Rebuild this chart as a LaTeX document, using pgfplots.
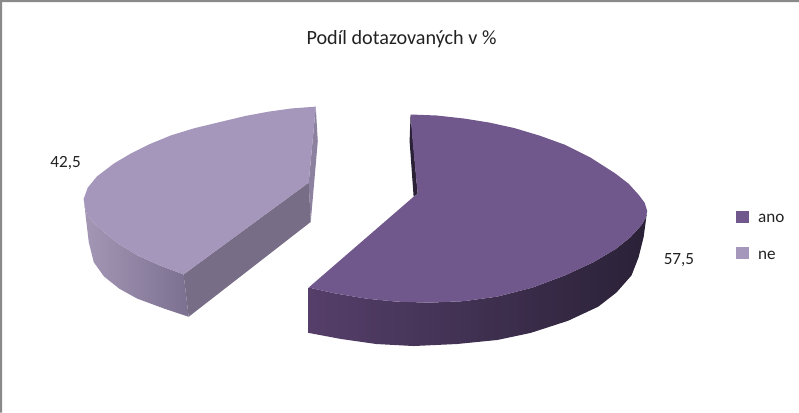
\documentclass[border=0pt]{standalone}
\usepackage{fontspec}
\setmainfont{Carlito}
\usepackage{pgfplots}
\pgfplotsset{compat=1.18}
\definecolor{dtop}{HTML}{70578C}
\definecolor{ltop}{HTML}{A596BB}
\definecolor{dl}{HTML}{553F6A}
\definecolor{dr}{HTML}{2A2137}
\definecolor{ll}{HTML}{A497B6}
\definecolor{lr}{HTML}{7C7090}
\definecolor{lfront}{HTML}{786D86}
\definecolor{lside}{HTML}{8D81A0}
\definecolor{txt}{HTML}{222222}
\definecolor{frame}{HTML}{8A8A8A}
\begin{document}
\begin{tikzpicture}
\begin{axis}[scale only axis,width=799pt,height=419pt,xmin=0,xmax=799,ymin=0,ymax=419,y dir=reverse,hide axis,clip=true,no markers]
% frame
\addplot[fill=frame,draw=none] coordinates {(7,10)(799,10)(799,12)(9,12)(9,419)(7,419)} --cycle;
% light slice
\addplot[fill=lside,draw=none] coordinates {(320,116)(322,150)(315,230)(313,191)} --cycle;
\addplot[draw=none,left color=ll,right color=lr] coordinates {(90,207)(91,215)(93,222)(100,231)(110,240)(125,252)(143,263)(165,273)(189,282)(194,324)(170,316)(143,306)(125,296)(110,284)(100,270)(95,250)(92,225)} --cycle;
\addplot[fill=lfront,draw=none] coordinates {(189,282)(313,191)(315,230)(194,324)} --cycle;
\addplot[fill=ltop,draw=none] coordinates {(320,115.7)(296,117.5)(273,120.7)(250,125)(227,130.5)(200,137)(177,144)(155,153)(137,162)(120,172)(103,185)(94,196)(90,207)(91,215)(93,222)(100,231)(110,240)(125,252)(143,263)(165,273)(189,282)(313,191)} --cycle;
% dark slice
\addplot[fill=dr,draw=none] coordinates {(414,123.5)(413,150)(417,205)(421,202)} --cycle;
\addplot[draw=none,left color=dl,right color=dr] coordinates {(648.5,219)(647,226)(643,233)(632,245)(617,257)(595,270)(567,283)(535,295)(500,304)(467,308.5)(433,310)(400,309)(370,306)(340,301)(313,295)(313,340)(345,346)(380,351)(417,353)(460,351)(500,347)(533,340)(570,328)(600,314)(618,300)(633,283)(640,265)(645,245)} --cycle;
\addplot[fill=dtop,draw=none] coordinates {(414,123.5)(440,124.5)(467,127.5)(492,131.5)(517,137)(542,144.5)(567,153.5)(592,166)(617,182)(630,192)(640,203)(646,211)(648.5,219)(647,226)(643,233)(632,245)(617,257)(595,270)(567,283)(535,295)(500,304)(467,308.5)(433,310)(400,309)(370,306)(340,301)(313,295)(417,205)(421,202)(416,150)} --cycle;
% legend keys
\addplot[fill=dtop,draw=none] coordinates {(737,219)(749,219)(749,231)(737,231)} --cycle;
\addplot[fill=ltop,draw=none] coordinates {(737,255)(749,255)(749,267)(737,267)} --cycle;
\node[txt,font=\fontsize{20}{24}\selectfont] at (axis cs:405,49) {Podíl dotazovaných v \%};
\node[txt,font=\fontsize{17}{20}\selectfont] at (axis cs:72,172) {42,5};
\node[txt,font=\fontsize{17}{20}\selectfont] at (axis cs:680,268) {57,5};
\node[txt,font=\fontsize{17}{20}\selectfont,anchor=base west] at (axis cs:755,231) {ano};
\node[txt,font=\fontsize{17}{20}\selectfont,anchor=base west] at (axis cs:755,267) {ne};
\end{axis}
\end{tikzpicture}
\end{document}
